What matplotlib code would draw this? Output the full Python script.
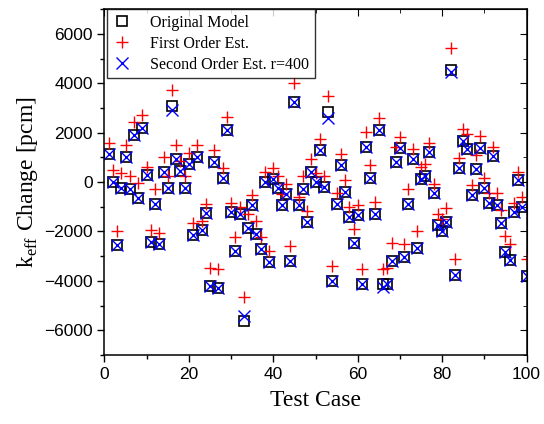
import numpy as np
import matplotlib
matplotlib.use("Agg")
import matplotlib.pyplot as plt
from matplotlib.ticker import MultipleLocator

# test case index
cases = np.arange(1, 101)

# k_eff change [pcm], original model
original = [1130, -10, -2530, -220, 1000, -260, 1920, -640, 2180, 270,
            -2410, -870, -2500, 390, -220, 3070, 950, 470, -220, 720,
            -2150, 1000, -1930, -1240, -4200, 830, -4300, 150, 2120, -1210,
            -2800, -1310, -5630, -1850, -940, -2100, -2710, 0, -3250, 120,
            -220, -940, -490, -3180, 3250, -940, -270, -1600, 410, 20,
            1320, -200, 2830, -4000, -870, 690, -400, -1430, -2460, -1350,
            -4110, 1440, 180, -1280, 2120, -4120, -4140, -3180, 830, 1370,
            -3050, -870, 930, -2660, 130, 240, 1200, -430, -1730, -2000,
            -1620, 4550, -3770, 560, 1650, 1330, -530, 520, 1370, -230,
            -840, 1060, -940, -1660, -2820, -3140, -1210, 80, -1010, -3800]

# first order estimate
first_order = [1600, 490, -1990, 350, 1510, 260, 2420, -30, 2710, 630,
               -1930, -260, -2050, 1010, 260, 3730, 1510, 840, 250, 1170,
               -1660, 1510, -1590, -870, -3460, 1310, -3520, 560, 2620, -830,
               -2230, -1010, -4650, -1280, -530, -1580, -2230, 410, -2780, 590,
               250, -500, -90, -2570, 4000, -600, 240, -1170, 930, 385,
               1730, 260, 3480, -3390, -450, 1140, 100, -1000, -1890, -940,
               -3520, 2030, 690, -800, 2600, -3520, -3480, -2480, 1440, 1820,
               -2500, -260, 1330, -2000, 595, 730, 1580, -80, -1310, -1500,
               -1030, 5430, -3110, 970, 2150, 1960, -120, 1100, 1850, 180,
               -460, 1420, -430, -1110, -2200, -2500, -830, 420, -620, -3110]

# second order estimate, r=400
second_order = list(original)
second_order[15] = 2940
second_order[32] = -5430
second_order[52] = 2600
second_order[65] = -4250
second_order[81] = 4450

plt.rcParams["font.family"] = ["Liberation Serif", "DejaVu Serif"]
plt.rcParams["mathtext.fontset"] = "custom"
plt.rcParams["mathtext.rm"] = "Liberation Serif"

fig = plt.figure(figsize=(5.44, 4.24), dpi=100)
ax = fig.add_axes([0.192, 0.163, 0.776, 0.815])

ax.plot(cases, original, "s", mfc="none", mec="black", mew=1.2, ms=7,
        label="Original Model")
ax.plot(cases, first_order, "+", color="red", mew=1.0, ms=9,
        label="First Order Est.")
ax.plot(cases, second_order, "x", color="blue", mew=1.0, ms=8,
        label="Second Order Est. r=400")

ax.set_xlim(0, 100)
ax.set_ylim(-7000, 7000)
ax.xaxis.set_major_locator(MultipleLocator(20))
ax.xaxis.set_minor_locator(MultipleLocator(10))
ax.yaxis.set_major_locator(MultipleLocator(2000))
ax.yaxis.set_minor_locator(MultipleLocator(1000))
ax.set_yticks([-6000, -4000, -2000, 0, 2000, 4000, 6000])

for s in ax.spines.values():
    s.set_linewidth(1.1)
ax.tick_params(which="major", direction="out", length=5, width=1.0)
ax.tick_params(which="minor", direction="out", length=3, width=1.0)
for lab in ax.get_xticklabels() + ax.get_yticklabels():
    lab.set_family(["Liberation Sans", "DejaVu Sans"])
    lab.set_fontsize(12.5)

# inward ticks on top and right like the original
top = ax.secondary_xaxis("top")
top.xaxis.set_major_locator(MultipleLocator(20))
top.xaxis.set_minor_locator(MultipleLocator(10))
top.tick_params(which="major", direction="in", length=5, labeltop=False)
top.tick_params(which="minor", direction="in", length=3)
right = ax.secondary_yaxis("right")
right.yaxis.set_major_locator(MultipleLocator(2000))
right.yaxis.set_minor_locator(MultipleLocator(1000))
right.tick_params(which="major", direction="in", length=5, labelright=False)
right.tick_params(which="minor", direction="in", length=3)

ax.set_xlabel("Test Case", fontsize=17, labelpad=6)
ax.set_ylabel(r"k$_{\mathrm{eff}}$ Change [pcm]", fontsize=17, labelpad=3)

leg = ax.legend(loc="upper left", bbox_to_anchor=(0.005, 1.0), borderaxespad=0,
                fontsize=11.5, frameon=True, fancybox=False, handlelength=1.2,
                handletextpad=1.2, borderpad=0.35, labelspacing=0.3)
leg.get_frame().set_edgecolor("black")
leg.get_frame().set_linewidth(1.0)

fig.savefig("out.png", dpi=100)
